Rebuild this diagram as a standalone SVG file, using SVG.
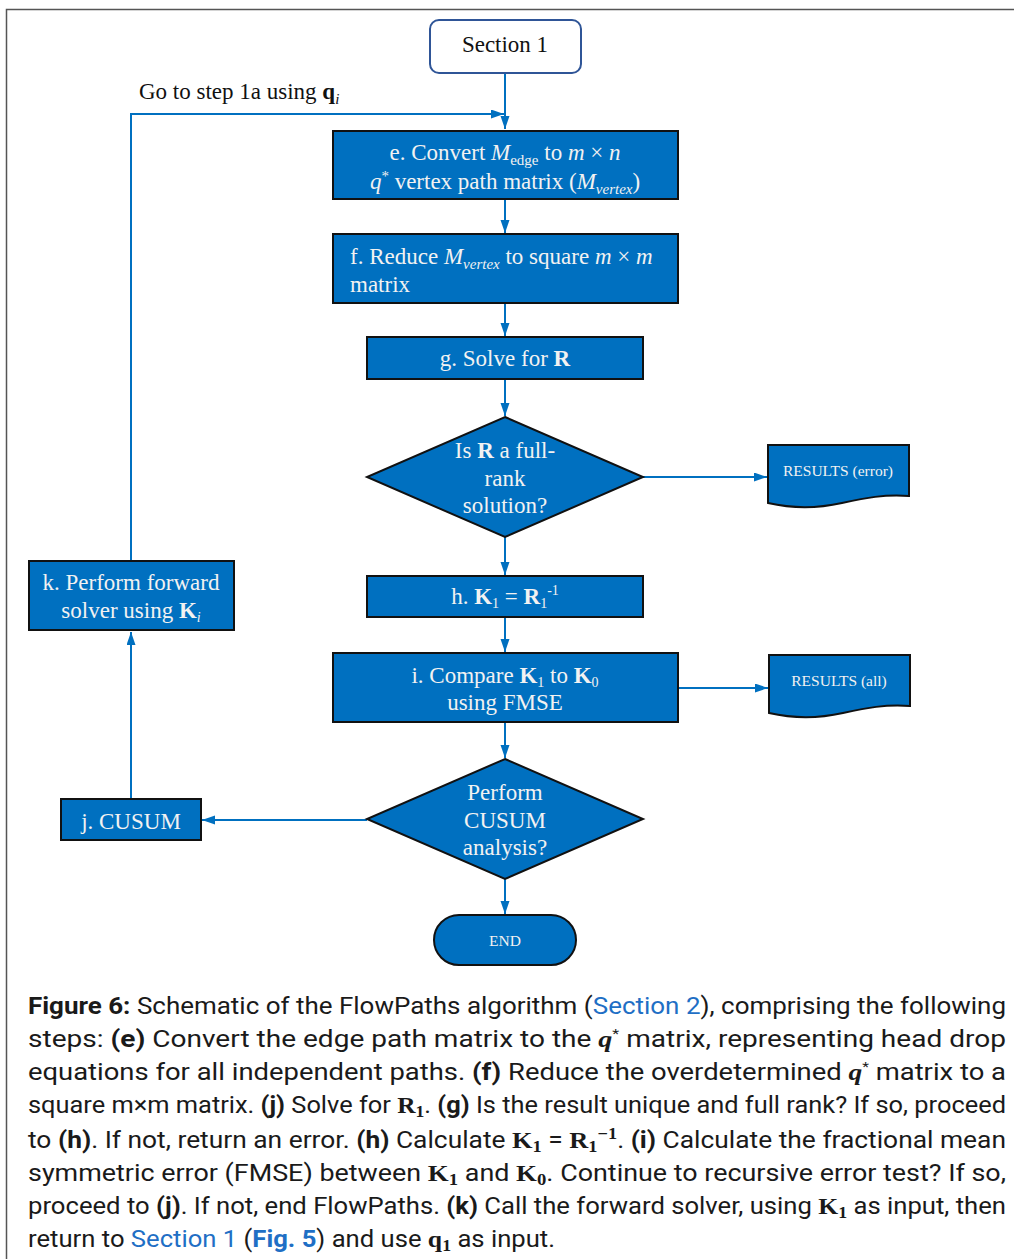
<svg xmlns="http://www.w3.org/2000/svg" width="1014" height="1259" viewBox="0 0 1014 1259">
<style>
.box{fill:#0070C0;stroke:#111;stroke-width:2}
.lbl{font-family:"Liberation Serif",serif;font-size:23px;fill:#F2F2F2}
.sm{font-family:"Liberation Serif",serif;font-size:15.5px;fill:#F2F2F2}
.dark{font-family:"Liberation Serif",serif;font-size:23px;fill:#111}
.con{fill:none;stroke:#0070C0;stroke-width:2}
.cap{font-family:Roboto,"Liberation Sans",sans-serif;font-size:23px;fill:#1a1a1a}
.b{font-weight:bold}
.m{font-family:"Liberation Serif",serif;font-weight:bold}
.lnk{fill:#1F6FC5}
</style>
<defs>
<marker id="ah" markerUnits="userSpaceOnUse" markerWidth="14" markerHeight="10" refX="13" refY="4.5" orient="auto">
<path d="M0,0 L13,4.5 L0,9 z" fill="#0070C0"/>
</marker>
</defs>
<rect width="1014" height="1259" fill="#fff"/>
<path d="M6.5,1259 V9.5 H1014" fill="none" stroke="#555" stroke-width="1.5"/>

<g id="connectors">
<path class="con" d="M505,73 V129" marker-end="url(#ah)"/>
<path class="con" d="M131,561 V114 H504" marker-end="url(#ah)"/>
<path class="con" d="M505,199 V233" marker-end="url(#ah)"/>
<path class="con" d="M505,303 V336" marker-end="url(#ah)"/>
<path class="con" d="M505,379 V416" marker-end="url(#ah)"/>
<path class="con" d="M643,477 H767" marker-end="url(#ah)"/>
<path class="con" d="M505,537 V575" marker-end="url(#ah)"/>
<path class="con" d="M505,617 V652" marker-end="url(#ah)"/>
<path class="con" d="M678,688 H768" marker-end="url(#ah)"/>
<path class="con" d="M505,722 V758" marker-end="url(#ah)"/>
<path class="con" d="M367,820 H202" marker-end="url(#ah)"/>
<path class="con" d="M131,799 V632" marker-end="url(#ah)"/>
<path class="con" d="M505,879 V914" marker-end="url(#ah)"/>
<text class="dark" x="139" y="99">Go to step 1a using <tspan class="b">q</tspan><tspan font-style="italic" font-size="15" dy="5">i</tspan></text>
</g>

<g id="section1">
<rect x="430" y="20" width="151" height="53" rx="9" fill="#fff" stroke="#2F5597" stroke-width="2"/>
<text class="dark" x="505" y="52" text-anchor="middle">Section 1</text>
</g>

<g id="e">
<rect class="box" x="333" y="131" width="345" height="68"/>
<text class="lbl" x="505" y="160" text-anchor="middle">e. Convert <tspan font-style="italic">M</tspan><tspan font-size="15" dy="5">edge</tspan><tspan dy="-5"> to </tspan><tspan font-style="italic">m</tspan> × <tspan font-style="italic">n</tspan></text>
<text class="lbl" x="505" y="189" text-anchor="middle"><tspan font-style="italic">q</tspan><tspan font-size="15" dy="-8">*</tspan><tspan dy="8"> vertex path matrix (</tspan><tspan font-style="italic">M</tspan><tspan font-style="italic" font-size="15" dy="5">vertex</tspan><tspan dy="-5">)</tspan></text>
</g>

<g id="f">
<rect class="box" x="333" y="234" width="345" height="69"/>
<text class="lbl" x="350" y="264">f. Reduce <tspan font-style="italic">M</tspan><tspan font-style="italic" font-size="15" dy="5">vertex</tspan><tspan dy="-5"> to square </tspan><tspan font-style="italic">m</tspan> × <tspan font-style="italic">m</tspan></text>
<text class="lbl" x="350" y="292">matrix</text>
</g>

<g id="g">
<rect class="box" x="367" y="337" width="276" height="42"/>
<text class="lbl" x="505" y="366" text-anchor="middle">g. Solve for <tspan class="b">R</tspan></text>
</g>

<g id="d1">
<path class="box" d="M505,417 L643,477 L505,537 L367,477 Z"/>
<text class="lbl" x="505" y="458" text-anchor="middle">Is <tspan class="b">R</tspan> a full-</text>
<text class="lbl" x="505" y="486" text-anchor="middle">rank</text>
<text class="lbl" x="505" y="513" text-anchor="middle">solution?</text>
</g>

<g id="res-error">
<path class="box" d="M768,445 H909 V496 C885,494 865,498 842,503 C815,509 790,508 768,503 Z"/>
<text class="sm" x="838" y="476" text-anchor="middle">RESULTS (error)</text>
</g>

<g id="h">
<rect class="box" x="367" y="576" width="276" height="41"/>
<text class="lbl" x="505" y="604" text-anchor="middle">h. <tspan class="b">K</tspan><tspan font-size="14" dy="4">1</tspan><tspan dy="-4"> = </tspan><tspan class="b">R</tspan><tspan font-size="14" dy="4">1</tspan><tspan font-size="14" dy="-13">-1</tspan></text>
</g>

<g id="i">
<rect class="box" x="333" y="653" width="345" height="69"/>
<text class="lbl" x="505" y="683" text-anchor="middle">i. Compare <tspan class="b">K</tspan><tspan font-size="14" dy="4">1</tspan><tspan dy="-4"> to </tspan><tspan class="b">K</tspan><tspan font-size="14" dy="4">0</tspan></text>
<text class="lbl" x="505" y="710" text-anchor="middle">using FMSE</text>
</g>

<g id="res-all">
<path class="box" d="M769,655 H910 V706 C886,704 866,708 843,713 C816,719 791,718 769,713 Z"/>
<text class="sm" x="839" y="686" text-anchor="middle">RESULTS (all)</text>
</g>

<g id="d2">
<path class="box" d="M505,759 L643,819 L505,879 L367,819 Z"/>
<text class="lbl" x="505" y="800" text-anchor="middle">Perform</text>
<text class="lbl" x="505" y="828" text-anchor="middle">CUSUM</text>
<text class="lbl" x="505" y="855" text-anchor="middle">analysis?</text>
</g>

<g id="j">
<rect class="box" x="61" y="799" width="140" height="41"/>
<text class="lbl" x="131" y="829" text-anchor="middle">j. CUSUM</text>
</g>

<g id="k">
<rect class="box" x="29" y="561" width="205" height="69"/>
<text class="lbl" x="131" y="590" text-anchor="middle">k. Perform forward</text>
<text class="lbl" x="131" y="618" text-anchor="middle">solver using <tspan class="b">K</tspan><tspan font-style="italic" font-size="14" dy="4">i</tspan></text>
</g>

<g id="end">
<rect class="box" x="434" y="915" width="142" height="50" rx="25"/>
<text class="sm" x="505" y="946" text-anchor="middle">END</text>
</g>

<g id="caption">
<text class="cap" x="28" y="1014" textLength="978" lengthAdjust="spacingAndGlyphs"><tspan class="b">Figure 6:</tspan> Schematic of the FlowPaths algorithm (<tspan class="lnk">Section 2</tspan>), comprising the following</text>
<text class="cap" x="28" y="1047" textLength="978" lengthAdjust="spacingAndGlyphs">steps: <tspan class="b">(e)</tspan> Convert the edge path matrix to the <tspan class="m" font-style="italic">q</tspan><tspan font-size="13" dy="-9">*</tspan><tspan dy="9"> matrix, representing head drop</tspan></text>
<text class="cap" x="28" y="1080" textLength="978" lengthAdjust="spacingAndGlyphs">equations for all independent paths. <tspan class="b">(f)</tspan> Reduce the overdetermined <tspan class="m" font-style="italic">q</tspan><tspan font-size="13" dy="-9">*</tspan><tspan dy="9"> matrix to a</tspan></text>
<text class="cap" x="28" y="1113" textLength="978" lengthAdjust="spacingAndGlyphs">square m×m matrix. <tspan class="b">(j)</tspan> Solve for <tspan class="m">R</tspan><tspan class="m" font-size="16" dy="4">1</tspan><tspan dy="-4">. </tspan><tspan class="b">(g)</tspan> Is the result unique and full rank? If so, proceed</text>
<text class="cap" x="28" y="1148" textLength="978" lengthAdjust="spacingAndGlyphs">to <tspan class="b">(h)</tspan>. If not, return an error. <tspan class="b">(h)</tspan> Calculate <tspan class="m">K</tspan><tspan class="m" font-size="16" dy="4">1</tspan><tspan dy="-4"> = </tspan><tspan class="m">R</tspan><tspan class="m" font-size="16" dy="4">1</tspan><tspan class="m" font-size="16" dy="-13">−1</tspan><tspan dy="9">. </tspan><tspan class="b">(i)</tspan> Calculate the fractional mean</text>
<text class="cap" x="28" y="1181" textLength="978" lengthAdjust="spacingAndGlyphs">symmetric error (FMSE) between <tspan class="m">K</tspan><tspan class="m" font-size="16" dy="4">1</tspan><tspan dy="-4"> and </tspan><tspan class="m">K</tspan><tspan class="m" font-size="16" dy="4">0</tspan><tspan dy="-4">. Continue to recursive error test? If so,</tspan></text>
<text class="cap" x="28" y="1214" textLength="978" lengthAdjust="spacingAndGlyphs">proceed to <tspan class="b">(j)</tspan>. If not, end FlowPaths. <tspan class="b">(k)</tspan> Call the forward solver, using <tspan class="m">K</tspan><tspan class="m" font-size="16" dy="4">1</tspan><tspan dy="-4"> as input, then</tspan></text>
<text class="cap" x="28" y="1247" textLength="527" lengthAdjust="spacingAndGlyphs">return to <tspan class="lnk">Section 1</tspan> (<tspan class="lnk b">Fig. 5</tspan>) and use <tspan class="m">q</tspan><tspan class="m" font-size="16" dy="4">1</tspan><tspan dy="-4"> as input.</tspan></text>
</g>
</svg>
